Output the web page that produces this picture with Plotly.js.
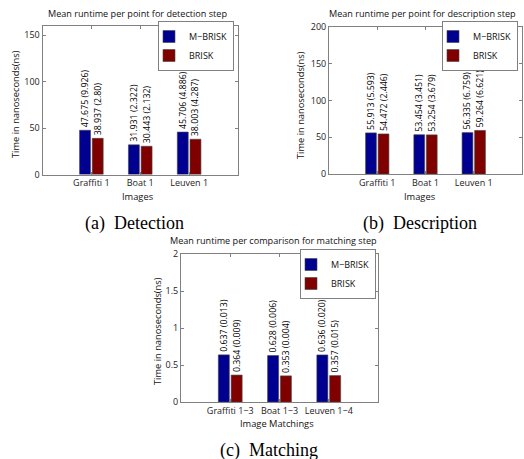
<!DOCTYPE html>
<html><head><meta charset="utf-8">
<script src="https://cdn.plot.ly/plotly-3.0.1.min.js"></script>
<style>html,body{margin:0;padding:0;background:#fff}#chart{width:524px;height:459px}</style>
</head><body><div id="chart"></div>
<script>
const seriesNames = ["M\u2212BRISK", "BRISK"];
const categoryPositions = [1, 2, 3];

const detCategories = ["Graffiti 1", "Boat 1", "Leuven 1"];
const detMBrisk = [47.675, 31.931, 45.706];
const detMBriskSd = ["9.926", "2.322", "4.886"];
const detBrisk = [38.937, 30.443, 38.003];
const detBriskSd = ["2.80", "2.132", "4.287"];

const descCategories = ["Graffiti 1", "Boat 1", "Leuven 1"];
const descMBrisk = [55.913, 53.454, 56.335];
const descMBriskSd = ["5.593", "3.451", "6.759"];
const descBrisk = [54.472, 53.254, 59.264];
const descBriskSd = ["2.446", "3.679", "6.621"];

const matchCategories = ["Graffiti 1\u22123", "Boat 1\u22123", "Leuven 1\u22124"];
const matchMBrisk = [0.637, 0.628, 0.636];
const matchMBriskSd = ["0.013", "0.006", "0.020"];
const matchBrisk = [0.364, 0.353, 0.357];
const matchBriskSd = ["0.009", "0.004", "0.015"];

const colors = ["#000090", "#800000"];
const FONT = "Open Sans, Noto Sans, sans-serif";
const W = 524, H = 459;
const px = v => v / W, py = v => 1 - v / H;

function labels(vals, sds) { return vals.map((v, i) => v.toFixed(3) + " (" + sds[i] + ")"); }

function bar(vals, sds, k, ax, leg) {
  return {
    type: "bar", x: categoryPositions, y: vals, name: seriesNames[k],
    marker: {color: colors[k], line: {color: "#444", width: 0.6}},
    text: labels(vals, sds), textposition: "outside", textangle: -90,
    constraintext: "none", cliponaxis: false,
    textfont: {family: FONT, size: 8.8, color: "#000"},
    xaxis: "x" + ax, yaxis: "y" + ax, legend: leg, hoverinfo: "skip"
  };
}

const data = [
  bar(detMBrisk, detMBriskSd, 0, "", "legend"),
  bar(detBrisk, detBriskSd, 1, "", "legend"),
  bar(descMBrisk, descMBriskSd, 0, "2", "legend2"),
  bar(descBrisk, descBriskSd, 1, "2", "legend2"),
  bar(matchMBrisk, matchMBriskSd, 0, "3", "legend3"),
  bar(matchBrisk, matchBriskSd, 1, "3", "legend3")
];

function xax(l, r, cats, anchor) {
  return {
    domain: [px(l), px(r)], anchor: anchor, range: [0, 4],
    tickvals: categoryPositions, ticktext: cats,
    showline: true, mirror: "ticks", linecolor: "#808080", linewidth: 1,
    ticks: "inside", ticklen: 3, tickcolor: "#808080",
    showgrid: false, zeroline: false,
    tickfont: {family: FONT, size: 9, color: "#222"}
  };
}
function yax(t, b, range, dtick, anchor) {
  return {
    domain: [py(b), py(t)], anchor: anchor, range: range, dtick: dtick,
    showline: true, mirror: "ticks", linecolor: "#808080", linewidth: 1,
    ticks: "inside", ticklen: 3, tickcolor: "#808080",
    showgrid: false, zeroline: false,
    tickfont: {family: FONT, size: 9, color: "#222"}
  };
}
function leg(r, t) {
  return {x: px(r), y: py(t), xanchor: "right", yanchor: "top",
    bordercolor: "#808080", borderwidth: 1, bgcolor: "#fff",
    font: {family: FONT, size: 9, color: "#111"}, itemwidth: 30, indentation: -10};
}
function txt(text, x, y, size, angle) {
  return {text: text, xref: "paper", yref: "paper", x: px(x), y: py(y), xanchor: "center", yanchor: "middle",
    showarrow: false, textangle: angle || 0, font: {family: FONT, size: size, color: "#111"}};
}
function caption(text, x, y) {
  return {text: text, xref: "paper", yref: "paper", x: px(x), y: py(y), xanchor: "center", yanchor: "middle",
    showarrow: false, font: {family: "Liberation Serif, Times New Roman, serif", size: 18, color: "#000"}};
}
const yTitle = "Time in nanoseconds(ns)";

const layout = {
  width: W, height: H, margin: {l: 0, r: 0, t: 0, b: 0},
  paper_bgcolor: "#fff", plot_bgcolor: "#fff",
  barmode: "group", bargap: 0.48, bargroupgap: 0.14,
  xaxis: xax(42.5, 238, detCategories, "y"),
  yaxis: yax(26, 174.5, [0, 160], 50, "x"),
  xaxis2: xax(329, 522, descCategories, "y2"),
  yaxis2: yax(27, 174, [0, 200], 50, "x2"),
  xaxis3: xax(181, 378, matchCategories, "y3"),
  yaxis3: yax(254, 402, [0, 2], 0.5, "x3"),
  legend: leg(234, 21),
  legend2: leg(518, 21),
  legend3: leg(376, 249),
  annotations: [
    txt("Mean runtime per point for detection step", 137, 14, 9.1),
    txt("Mean runtime per point for description step", 422, 14, 9.1),
    txt("Mean runtime per comparison for matching step", 273, 241, 9.1),
    txt("Images", 138, 196.5, 9.3),
    txt("Images", 420, 196.5, 9.3),
    txt("Image Matchings", 277, 423.5, 9.3),
    txt(yTitle, 16, 104, 9.3, -90),
    txt(yTitle, 301, 105, 9.3, -90),
    txt(yTitle, 157, 331, 9.3, -90),
    caption("(a)\u00a0 Detection", 134, 223),
    caption("(b)\u00a0 Description", 420, 223),
    caption("(c)\u00a0 Matching", 269, 450)
  ]
};

Plotly.newPlot("chart", data, layout, {displayModeBar: false, staticPlot: true});
</script>
</body></html>
